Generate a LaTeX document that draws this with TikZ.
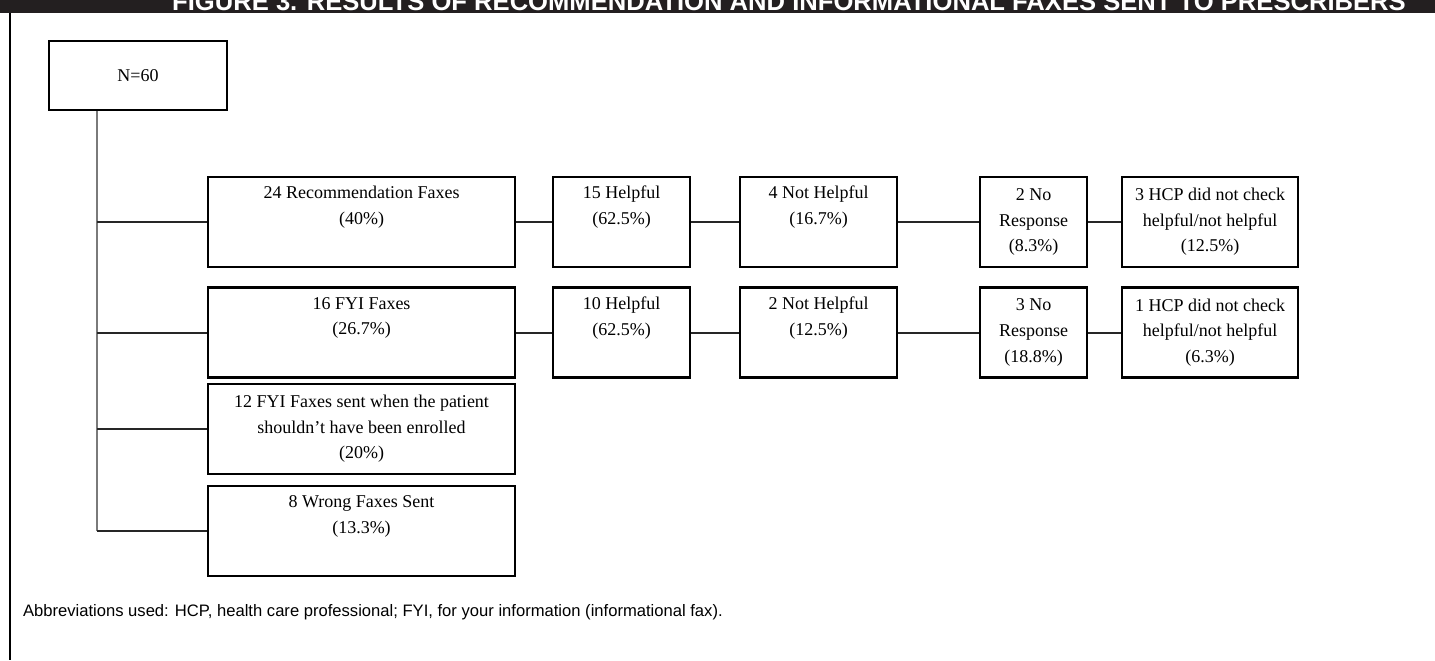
\documentclass[tikz,border=0pt]{standalone}
\usepackage{fontspec}
\setmainfont{Liberation Serif}
\newfontfamily\headfont{Liberation Sans}
\usetikzlibrary{positioning}
\definecolor{barBlack}{HTML}{231F20}
\definecolor{trunkGray}{HTML}{7A7A7A}

\begin{document}
\begin{tikzpicture}[
    x=0.5pt, y=-0.5pt,
    box/.style={draw, line width=1.1pt, inner sep=0pt, align=center, minimum height=45pt, font=\fontsize{9}{12.8}\selectfont},
    link/.style={line width=1pt, draw=black!85},
    trunk/.style={line width=0.8pt, draw=trunkGray}
  ]
  \useasboundingbox (0,0) rectangle (1435,660);
  \clip (0,0) rectangle (1435,660);

  % heading bar and frame
  \fill[barBlack] (0,0) rectangle (1435,13);
  \node[anchor=base, text=white, font=\headfont\bfseries\fontsize{12.8}{15}\selectfont] (title) at (789,10)
    {FIGURE 3. RESULTS OF RECOMMENDATION AND INFORMATIONAL FAXES SENT TO PRESCRIBERS};
  \draw[line width=1pt] (10,13) -- (10,660);

  \node[box, minimum width=89pt, minimum height=34.5pt] (total) at (138,75.5) {N=60};

  % first row
  \node[box, minimum width=153.5pt] (rec) at (361.5,222) {24 Recommendation Faxes\\(40\%)\\\strut};
  \node[box, minimum width=68.5pt] (recHelp) at (621.5,222) {15 Helpful\\(62.5\%)\\\strut};
  \node[box, minimum width=78.5pt] (recNot) at (818.5,222) {4 Not Helpful\\(16.7\%)\\\strut};
  \node[box, minimum width=53.5pt] (recNone) at (1033.5,222) {2 No\\Response\\(8.3\%)};
  \node[box, minimum width=88pt] (recHcp) at (1210,222) {3 HCP did not check\\helpful/not helpful\\(12.5\%)};

  % second row
  \node[box, minimum width=153.5pt] (fyi) at (361.5,332.5) {16 FYI Faxes\\(26.7\%)\\\strut};
  \node[box, minimum width=68.5pt] (fyiHelp) at (621.5,332.5) {10 Helpful\\(62.5\%)\\\strut};
  \node[box, minimum width=78.5pt] (fyiNot) at (818.5,332.5) {2 Not Helpful\\(12.5\%)\\\strut};
  \node[box, minimum width=53.5pt] (fyiNone) at (1033.5,332.5) {3 No\\Response\\(18.8\%)};
  \node[box, minimum width=88pt] (fyiHcp) at (1210,332.5) {1 HCP did not check\\helpful/not helpful\\(6.3\%)};

  \node[box, minimum width=153.5pt] (enrol) at (361.5,429) {12 FYI Faxes sent when the patient\\shouldn't have been enrolled\\(20\%)};
  \node[box, minimum width=153.5pt] (wrong) at (361.5,531) {8 Wrong Faxes Sent\\(13.3\%)\\\strut};

  \draw[trunk] (total.south -| 97,0) -- (wrong.west -| 97,0);
  \foreach \b in {rec,fyi,enrol,wrong}
    \draw[link] (\b.west -| 97,0) -- (\b.west);
  \draw[link] (rec)--(recHelp);
  \draw[link] (recHelp)--(recNot);
  \draw[link] (recNot)--(recNone);
  \draw[link] (recNone)--(recHcp);
  \draw[link] (fyi)--(fyiHelp);
  \draw[link] (fyiHelp)--(fyiNot);
  \draw[link] (fyiNot)--(fyiNone);
  \draw[link] (fyiNone)--(fyiHcp);

  \node[anchor=west, font=\headfont\fontsize{8.3}{10}\selectfont] (abbr) at (16,612)
    {Abbreviations used: HCP, health care professional; FYI, for your information (informational fax).};
\end{tikzpicture}
\end{document}
